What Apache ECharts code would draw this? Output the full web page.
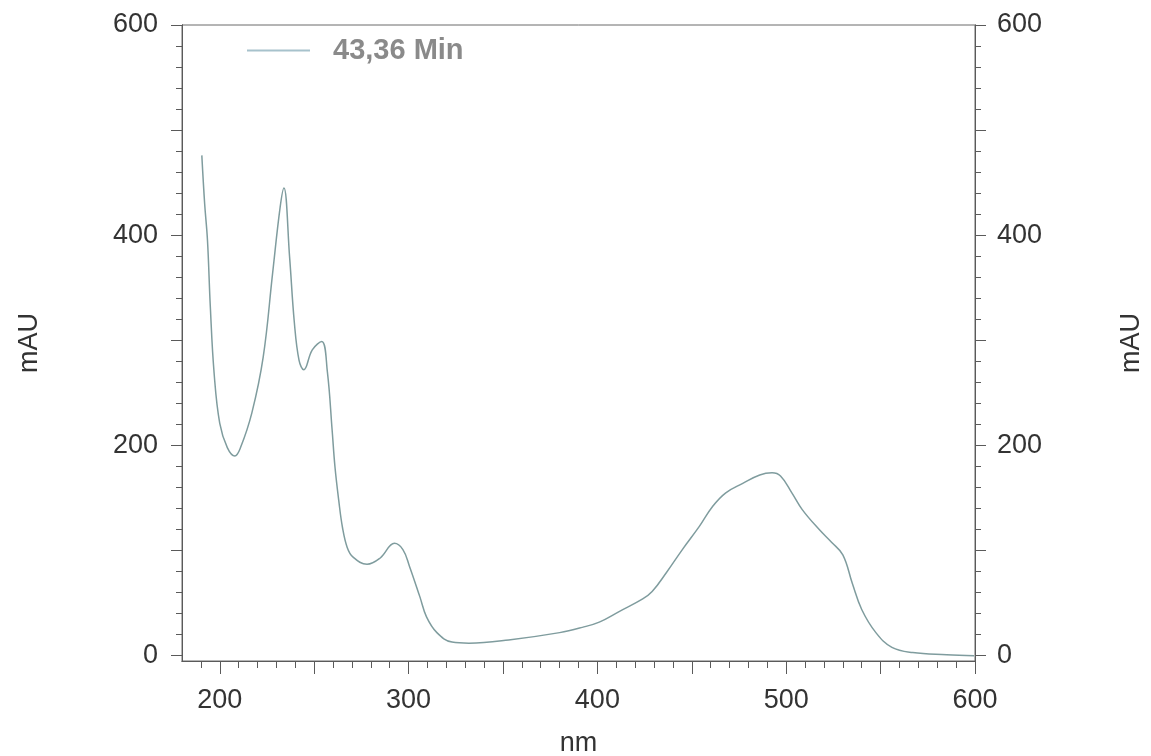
<!DOCTYPE html>
<html>
<head>
<meta charset="utf-8">
<script src="https://cdn.jsdelivr.net/npm/echarts@6/dist/echarts.min.js"></script>
<style>
  html, body { margin: 0; padding: 0; background: #fff; }
  #chart { width: 1151px; height: 756px; }
</style>
</head>
<body>
<div id="chart"></div>
<script>
// spectrum (nm, mAU)
const wavelength = [190.5, 192, 193.5, 195, 197, 200, 204, 208, 211, 217, 223, 228, 232, 234, 237, 239.5, 242, 244.5, 249, 254, 257, 259.5, 261, 263, 265, 267.5, 270.5, 278, 285, 292.5, 297, 300.5, 306, 309.5, 315, 323, 332, 353, 380, 392, 401, 411.5, 424, 429, 436.5, 445, 454, 461, 468, 477, 486, 492.5, 497, 503, 508.5, 517.5, 524, 530, 535, 540, 547.5, 556, 567, 585, 599.5];
const absorbance = [476, 430, 395, 332, 269, 221, 198, 190, 198, 231, 284, 364, 427, 445, 379, 317, 281, 272, 291, 299, 270, 215, 180, 148, 122, 103, 94, 87, 93, 107, 101, 85, 56, 37, 22, 13, 12, 15, 22, 27, 32, 42, 54, 61, 79, 101, 123, 142, 155, 164, 172, 174, 171, 155, 139, 120, 108, 96, 69, 44, 22, 8, 3, 1, 0];
const seriesName = '43,36 Min';

const xLabels = [200, 300, 400, 500, 600];
const xMajorTicks = [200, 250, 300, 350, 400, 450, 500, 550, 600];
const xMinorTicks = [190, 210, 220, 230, 240, 260, 270, 280, 290, 310, 320, 330, 340, 360, 370, 380, 390, 410, 420, 430, 440, 460, 470, 480, 490, 510, 520, 530, 540, 560, 570, 580, 590];
const yLabels = [0, 200, 400, 600];
const yMajorTicks = [0, 100, 200, 300, 400, 500, 600];
const yMinorTicks = [20, 40, 60, 80, 120, 140, 160, 180, 220, 240, 260, 280, 320, 340, 360, 380, 420, 440, 460, 480, 520, 540, 560, 580];

const font = "'Liberation Sans', Arial, sans-serif";
const axisColor = '#5a5a5a';

const chart = echarts.init(document.getElementById('chart'));

function yAxisDef(position, ticks, len, labels, withName) {
    return {
        type: 'value',
        position: position,
        min: -5,
        max: 600,
        splitLine: { show: false },
        axisLine: { show: true, onZero: false, lineStyle: { color: axisColor, width: 1 } },
        axisTick: { show: true, customValues: ticks, length: len, lineStyle: { color: axisColor } },
        axisLabel: labels ? {
            show: true, customValues: labels, fontSize: 27, fontFamily: font,
            color: '#333', margin: position === 'left' ? 24 : 22,
            padding: [12, 0, 0, 0]
        } : { show: false },
        name: withName ? 'mAU' : '',
        nameLocation: 'middle',
        nameRotate: 90,
        nameGap: position === 'left' ? 139 : 143,
        nameTextStyle: { fontSize: 27, fontFamily: font, color: '#333' }
    };
}

function xAxisDef(ticks, len, labels, withName) {
    return {
        type: 'value',
        position: 'bottom',
        min: 180,
        max: 600,
        splitLine: { show: false },
        axisLine: { show: true, onZero: false, lineStyle: { color: axisColor, width: 1 } },
        axisTick: { show: true, customValues: ticks, length: len, lineStyle: { color: axisColor } },
        axisLabel: labels ? {
            show: true, customValues: labels, fontSize: 27, fontFamily: font,
            color: '#333', margin: 26
        } : { show: false },
        name: withName ? 'nm' : '',
        nameLocation: 'middle',
        nameGap: 69,
        nameTextStyle: { fontSize: 27, fontFamily: font, color: '#333' }
    };
}

const points = wavelength.map((w, i) => [w, absorbance[i]]);

const option = {
    backgroundColor: '#fff',
    animation: false,
    grid: {
        left: 182, right: 176, top: 25, bottom: 95,
        outerBoundsMode: 'none',
        containLabel: false,
        show: true, borderColor: '#6a6a6a', borderWidth: 1
    },
    legend: {
        left: 247,
        top: 36,
        padding: 0,
        icon: 'rect',
        itemWidth: 63,
        itemHeight: 2,
        data: [{ name: seriesName, itemStyle: { color: '#a7c2cc' } }],
        textStyle: {
            fontSize: 29, fontWeight: 'bold', fontFamily: font,
            color: '#8a8a8a', padding: [2, 0, 0, 18]
        }
    },
    xAxis: [
        xAxisDef(xMajorTicks, 13, xLabels, true),
        xAxisDef(xMinorTicks, 7, null, false)
    ],
    yAxis: [
        yAxisDef('left', yMajorTicks, 11, yLabels, true),
        yAxisDef('left', yMinorTicks, 6, null, false),
        yAxisDef('right', yMajorTicks, 11, yLabels, true),
        yAxisDef('right', yMinorTicks, 6, null, false)
    ],
    series: [{
        name: seriesName,
        type: 'line',
        xAxisIndex: 0,
        yAxisIndex: 0,
        data: points,
        smooth: 0.4,
        showSymbol: false,
        symbol: 'none',
        lineStyle: { color: '#7f9c9e', width: 1.5 }
    }]
};

chart.setOption(option);
</script>
</body>
</html>
